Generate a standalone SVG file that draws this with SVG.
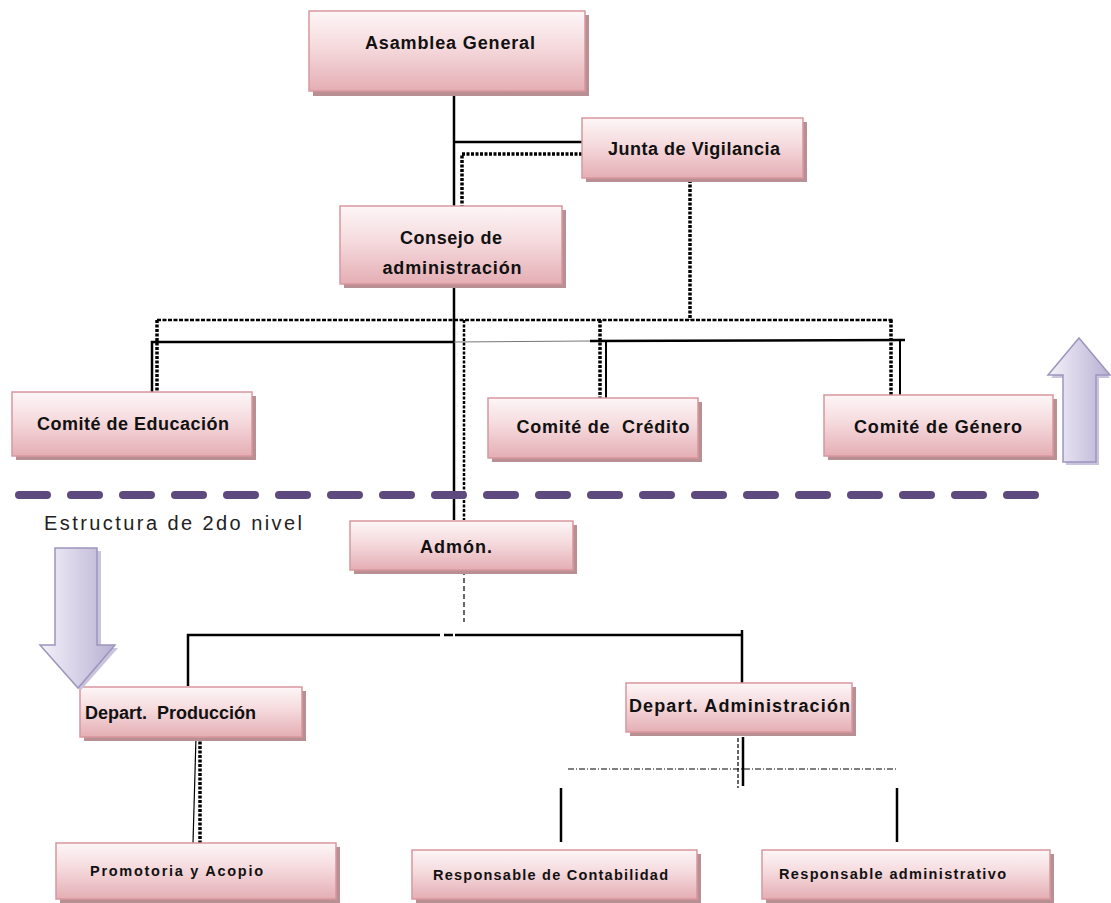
<svg xmlns="http://www.w3.org/2000/svg" width="1111" height="903" viewBox="0 0 1111 903">
<defs>
<linearGradient id="boxg" x1="0" y1="0" x2="0" y2="1">
<stop offset="0" stop-color="#fdf6f7"/>
<stop offset="0.45" stop-color="#f5dadd"/>
<stop offset="1" stop-color="#e4aeb4"/>
</linearGradient>
<linearGradient id="arrg" x1="0" y1="0" x2="1" y2="0">
<stop offset="0" stop-color="#f4f2fa"/>
<stop offset="1" stop-color="#b8b0d2"/>
</linearGradient>
</defs>
<style>
.sh{fill:#b88f93;}
.bx{fill:url(#boxg);stroke:#d9979e;stroke-width:1.5;}
.t{font-family:"Liberation Sans",Arial,sans-serif;font-weight:bold;font-size:18px;fill:#111;}
.ts{font-family:"Liberation Sans",Arial,sans-serif;font-weight:bold;font-size:14.5px;fill:#111;}
.sol{stroke:#000;stroke-width:2.5;fill:none;}
.dot{stroke:#000;stroke-width:3.5;stroke-dasharray:3 1.5;fill:none;}
.thin{stroke:#000;stroke-width:1.2;fill:none;stroke-dasharray:5 3;}
.dd{stroke:#000;stroke-width:1;fill:none;stroke-dasharray:6 2 1 2;}
.arr{fill:url(#arrg);stroke:#9d95bd;stroke-width:1.5;}
.arrsh{fill:#c9c3dc;}
</style>
<g id="connectors">
<line class="sol" x1="454" y1="92" x2="454" y2="207"/>
<line class="sol" x1="454" y1="142" x2="582" y2="142"/>
<polyline class="dot" points="582,154 462,154 462,206"/>
<line class="dot" x1="690" y1="180" x2="690" y2="320"/>
<line class="dot" x1="157" y1="320" x2="893" y2="320" style="stroke-width:2.5;stroke-dasharray:4 1.5"/>
<line class="dot" x1="157" y1="320" x2="157" y2="392"/>
<line class="dot" x1="600" y1="320" x2="600" y2="398"/>
<line class="dot" x1="891" y1="320" x2="891" y2="395"/>
<line class="dot" x1="464" y1="320" x2="464" y2="520" style="stroke-width:2.5"/>
<line class="sol" x1="454" y1="285" x2="454" y2="520"/>
<polyline class="sol" points="152,392 152,342 454,342"/>
<line x1="454" y1="342" x2="590" y2="341" stroke="#777" stroke-width="1"/>
<line class="sol" x1="590" y1="341" x2="905" y2="340"/>
<line class="sol" x1="606" y1="341" x2="606" y2="398" style="stroke-width:2"/>
<line class="sol" x1="900" y1="340" x2="900" y2="395" style="stroke-width:2"/>
<line class="thin" x1="464" y1="570" x2="464" y2="622"/>
<polyline class="sol" points="188,686 188,635 430,635"/>
<line class="sol" x1="430" y1="635" x2="453" y2="635" style="stroke-dasharray:10 4"/>
<line class="sol" x1="455" y1="635" x2="742" y2="635"/>
<line class="sol" x1="742" y1="630" x2="742" y2="683"/>
<line x1="196" y1="737" x2="193" y2="843" stroke="#000" stroke-width="1.2"/>
<line class="dot" x1="200" y1="737" x2="200" y2="843"/>
<line class="thin" x1="738" y1="732" x2="738" y2="788" style="stroke-dasharray:4 2"/>
<line class="sol" x1="743" y1="737" x2="743" y2="786"/>
<line class="dd" x1="568" y1="769" x2="896" y2="769"/>
<line class="sol" x1="561" y1="788" x2="561" y2="842"/>
<line class="sol" x1="897" y1="788" x2="897" y2="842"/>
<line x1="19" y1="495" x2="1045" y2="495" stroke="#5e4a7e" stroke-width="8" stroke-linecap="round" stroke-dasharray="28 24"/>
</g>
<g id="asamblea"><rect class="sh" x="313" y="15" width="276" height="81"/><rect class="bx" x="309" y="11" width="276" height="80"/><text class="t" x="450" y="49" text-anchor="middle" textLength="170">Asamblea General</text></g>
<g id="junta"><rect class="sh" x="586" y="122" width="221" height="60"/><rect class="bx" x="582" y="118" width="221" height="60"/><text class="t" x="694" y="155" text-anchor="middle" textLength="172">Junta de Vigilancia</text></g>
<g id="consejo"><rect class="sh" x="344" y="210" width="222" height="78"/><rect class="bx" x="340" y="206" width="222" height="78"/><text class="t" x="451" y="244" text-anchor="middle" textLength="102">Consejo de</text><text class="t" x="452" y="274" text-anchor="middle" textLength="139">administración</text></g>
<g id="educacion"><rect class="sh" x="16" y="396" width="240" height="64"/><rect class="bx" x="12" y="392" width="240" height="64"/><text class="t" x="133" y="430" text-anchor="middle" textLength="192">Comité de Educación</text></g>
<g id="credito"><rect class="sh" x="492" y="402" width="210" height="60"/><rect class="bx" x="488" y="398" width="210" height="60"/><text class="t" x="603" y="433" text-anchor="middle" textLength="173" xml:space="preserve">Comité de  Crédito</text></g>
<g id="genero"><rect class="sh" x="828" y="399" width="229" height="61"/><rect class="bx" x="824" y="395" width="229" height="61"/><text class="t" x="938" y="433" text-anchor="middle" textLength="168">Comité de Género</text></g>
<g id="admon"><rect class="sh" x="354" y="525" width="223" height="49"/><rect class="bx" x="350" y="521" width="223" height="49"/><text class="t" x="456" y="553" text-anchor="middle" textLength="72">Admón.</text></g>
<g id="produccion"><rect class="sh" x="84" y="691" width="222" height="50"/><rect class="bx" x="80" y="687" width="222" height="50"/><text class="t" x="85" y="719" textLength="171" xml:space="preserve">Depart.  Producción</text></g>
<g id="administracion"><rect class="sh" x="630" y="687" width="226" height="49"/><rect class="bx" x="626" y="683" width="226" height="49"/><text class="t" x="629" y="712" textLength="221">Depart. Administración</text></g>
<g id="promotoria"><rect class="sh" x="60" y="847" width="280" height="56"/><rect class="bx" x="56" y="843" width="280" height="56"/><text class="ts" x="90" y="876" textLength="173">Promotoria y Acopio</text></g>
<g id="contabilidad"><rect class="sh" x="416" y="854" width="285" height="49"/><rect class="bx" x="412" y="850" width="285" height="49"/><text class="ts" x="433" y="880" textLength="235">Responsable de Contabilidad</text></g>
<g id="resp_admin"><rect class="sh" x="766" y="854" width="288" height="49"/><rect class="bx" x="762" y="850" width="288" height="49"/><text class="ts" x="779" y="879" textLength="227">Responsable administrativo</text></g>
<text x="44" y="530" font-family="Liberation Sans, Arial, sans-serif" font-size="20" fill="#222" textLength="258">Estructura de 2do nivel</text>
<g id="arrow_down"><polygon class="arrsh" points="59,551 101,551 101,648 118,648 81,690 44,648 59,648"/><polygon class="arr" points="55,548 97,548 97,645 115,645 78,688 40,645 55,645"/></g>
<g id="arrow_up"><polygon class="arrsh" points="1082,342 1110,378 1099,378 1099,465 1066,465 1066,378 1051,378"/><polygon class="arr" points="1079,338 1110,375 1096,375 1096,462 1063,462 1063,375 1048,375"/></g>
</svg>
